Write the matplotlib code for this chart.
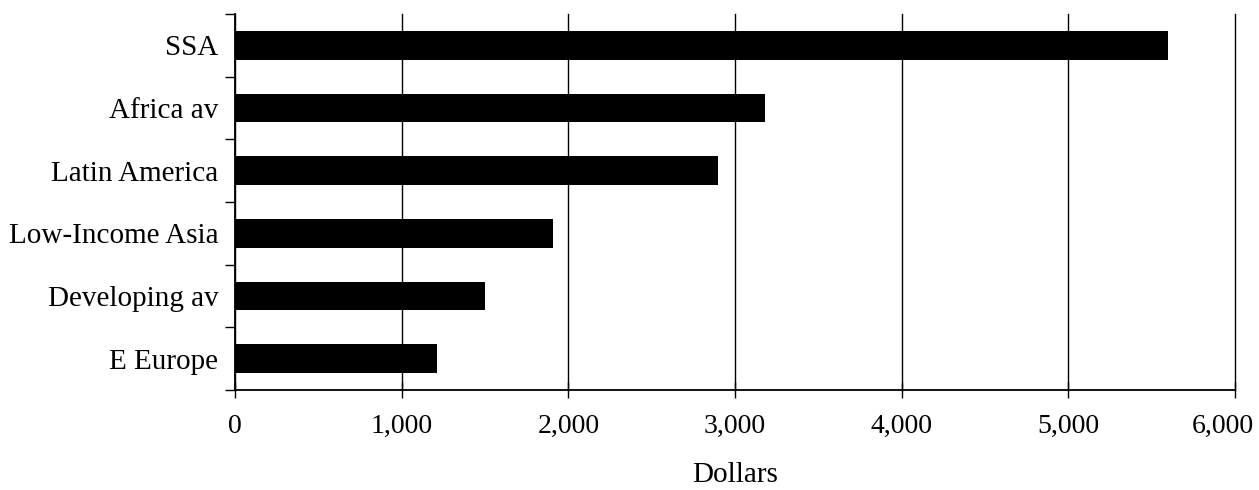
import matplotlib
matplotlib.use("Agg")
import matplotlib.pyplot as plt
from matplotlib.ticker import FuncFormatter, MultipleLocator
import numpy as np

# regions, top to bottom as shown
regions = ["SSA", "Africa av", "Latin America", "Low-Income Asia", "Developing av", "E Europe"]
dollars = [5600, 3180, 2900, 1910, 1500, 1210]
x_max = 6000

plt.rcParams['font.family'] = ['Liberation Serif', 'DejaVu Serif']

fig = plt.figure(figsize=(12.59, 4.90), dpi=100)
ax = fig.add_axes([235/1259, 1 - 390/490, 1000/1259, 376/490])

pos = np.arange(len(regions))[::-1]
ax.barh(pos, dollars, height=0.46, color='black', zorder=3)

ax.set_xlim(0, x_max)
ax.set_ylim(-0.5, len(regions) - 0.5)
ax.xaxis.set_major_locator(MultipleLocator(1000))
# the last label is drawn separately, nudged left so it fits
ax.xaxis.set_major_formatter(FuncFormatter(lambda v, p: "" if v >= x_max else f"{int(v):,}"))
ax.grid(axis='x', color='black', linewidth=1.0, zorder=0)
for gl in ax.get_xgridlines():
    gl.set_clip_on(False)

# category labels between boundary ticks
ax.set_yticks(pos)
ax.set_yticklabels(regions, fontsize=21)
ax.set_yticks(np.arange(-0.5, len(regions), 1.0), minor=True)
ax.tick_params(axis='y', which='major', length=0, pad=12)
ax.tick_params(axis='y', which='minor', length=7, width=1.0, direction='out')
ax.tick_params(axis='x', which='major', length=12, width=1.0, direction='inout', labelsize=20, pad=11)

ax.annotate(f"{x_max:,}", xy=(x_max, 0), xycoords=('data', 'axes fraction'),
            xytext=(-9, -17), textcoords='offset points',
            ha='center', va='top', fontsize=20, annotation_clip=False)

for s in ['top', 'right']:
    ax.spines[s].set_visible(False)
for s in ['left', 'bottom']:
    ax.spines[s].set_linewidth(1.3)

ax.set_xlabel("Dollars", fontsize=21, labelpad=17)

fig.savefig("out.png", dpi=100)
